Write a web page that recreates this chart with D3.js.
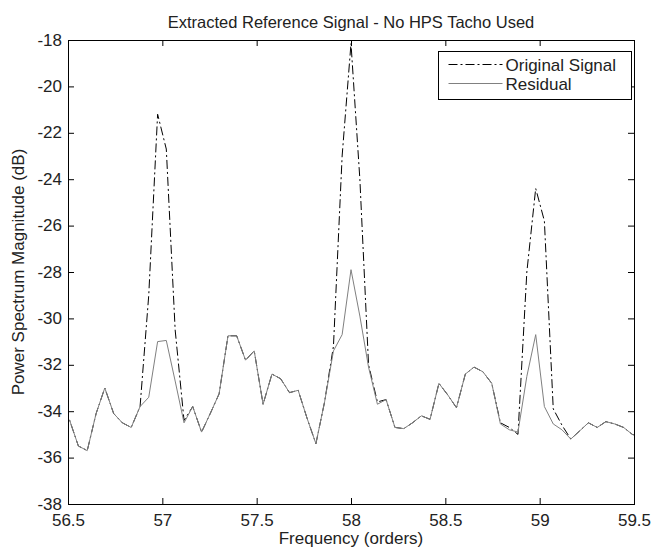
<!DOCTYPE html>
<html>
<head>
<meta charset="utf-8">
<script src="https://cdn.jsdelivr.net/npm/d3@7"></script>
<style>
  html, body { margin: 0; padding: 0; background: #fff; }
  svg { display: block; font-family: "Liberation Sans", Arial, sans-serif; }
</style>
</head>
<body>
<svg id="chart" width="665" height="549"></svg>
<script>
// Spectrum bins (orders)
const frequency = [
  56.462, 56.509, 56.555, 56.602, 56.649, 56.695, 56.742, 56.788, 56.835, 56.882,
  56.928, 56.975, 57.021, 57.068, 57.115, 57.161, 57.208, 57.254, 57.301, 57.348,
  57.394, 57.441, 57.487, 57.534, 57.581, 57.627, 57.674, 57.720, 57.767, 57.814,
  57.860, 57.907, 57.953, 58.000, 58.047, 58.093, 58.140, 58.186, 58.233, 58.280,
  58.326, 58.373, 58.419, 58.466, 58.513, 58.559, 58.606, 58.652, 58.699, 58.746,
  58.792, 58.839, 58.885, 58.932, 58.979, 59.025, 59.072, 59.118, 59.165, 59.212,
  59.258, 59.305, 59.351, 59.398, 59.445, 59.491, 59.538
];

// Power spectrum of the raw signal (dB)
const originalSignal = [
  -34.0, -34.4, -35.5, -35.7, -34.1, -33.0, -34.1, -34.5, -34.7, -33.8,
  -29.0, -21.2, -22.7, -30.5, -34.4, -33.8, -34.9, -34.1, -33.25, -30.75,
  -30.75, -31.8, -31.4, -33.7, -32.4, -32.6, -33.2, -33.1, -34.3, -35.4,
  -33.6, -31.2, -23.0, -18.15, -24.0, -32.0, -33.6, -33.5, -34.7, -34.75,
  -34.5, -34.2, -34.35, -32.8, -33.3, -33.85, -32.4, -32.1, -32.3, -32.8,
  -34.5, -34.7, -35.0, -28.0, -24.4, -25.8, -33.9, -34.6, -35.2, -34.85,
  -34.5, -34.7, -34.45, -34.55, -34.7, -35.0, -35.1
];

// Power spectrum after removing the extracted reference (dB)
const residual = [
  -34.0, -34.4, -35.5, -35.7, -34.1, -33.0, -34.1, -34.5, -34.7, -33.8,
  -33.4, -31.0, -30.95, -32.7, -34.5, -33.8, -34.9, -34.1, -33.25, -30.75,
  -30.75, -31.8, -31.4, -33.7, -32.4, -32.6, -33.2, -33.1, -34.3, -35.4,
  -33.6, -31.4, -30.7, -27.9, -29.9, -32.1, -33.7, -33.5, -34.7, -34.75,
  -34.5, -34.2, -34.35, -32.8, -33.3, -33.85, -32.4, -32.1, -32.3, -32.8,
  -34.55, -34.8, -34.9, -32.5, -30.7, -33.8, -34.55, -34.8, -35.2, -34.85,
  -34.5, -34.7, -34.45, -34.55, -34.7, -35.0, -35.1
];

const xTicks = [56.5, 57, 57.5, 58, 58.5, 59, 59.5];
const yTicks = [-18, -20, -22, -24, -26, -28, -30, -32, -34, -36, -38];
const seriesNames = ["Original Signal", "Residual"];

const margin = { left: 68, right: 31, top: 40, bottom: 45 };
const W = 665, H = 549;
const pw = W - margin.left - margin.right;
const ph = H - margin.top - margin.bottom;

const svg = d3.select("#chart");
const g = svg.append("g").attr("transform", `translate(${margin.left},${margin.top})`);

const x = d3.scaleLinear().domain([56.5, 59.5]).range([0, pw]);
const y = d3.scaleLinear().domain([-38, -18]).range([ph, 0]);

svg.append("defs").append("clipPath").attr("id", "plotClip")
  .append("rect").attr("x", 0).attr("y", 0).attr("width", pw).attr("height", ph);

const tickLen = 6;
const fontSize = 17;

// Axes: ticks point into the plot on all four sides
const xBottom = d3.axisBottom(x).tickValues(xTicks).tickSizeInner(-tickLen).tickSizeOuter(0)
  .tickPadding(10).tickFormat(d => String(d));
const xTop = d3.axisTop(x).tickValues(xTicks).tickSizeInner(-tickLen).tickSizeOuter(0).tickFormat("");
const yLeft = d3.axisLeft(y).tickValues(yTicks).tickSizeInner(-tickLen).tickSizeOuter(0)
  .tickPadding(6).tickFormat(d => String(d));
const yRight = d3.axisRight(y).tickValues(yTicks).tickSizeInner(-tickLen).tickSizeOuter(0).tickFormat("");

function styleAxis(sel) {
  sel.select(".domain").remove();
  sel.selectAll(".tick line").attr("stroke", "#000").attr("stroke-width", 1);
  sel.selectAll(".tick text").attr("fill", "#222").attr("font-size", fontSize)
    .attr("font-family", "'Liberation Sans', Arial, sans-serif");
}

g.append("g").attr("transform", `translate(0,${ph})`).call(xBottom).call(styleAxis);
g.append("g").call(xTop).call(styleAxis);
g.append("g").call(yLeft).call(styleAxis)
  .selectAll(".tick text").attr("dy", "0.3em");
g.append("g").attr("transform", `translate(${pw},0)`).call(yRight).call(styleAxis);

// Lines
const line = d3.line()
  .x((d, i) => x(frequency[i]))
  .y(d => y(d));

const lines = g.append("g").attr("clip-path", "url(#plotClip)");
lines.append("path").datum(originalSignal)
  .attr("d", line)
  .attr("fill", "none")
  .attr("stroke", "#000")
  .attr("stroke-width", 1)
  .attr("stroke-dasharray", "9,3,2,3");
lines.append("path").datum(residual)
  .attr("d", line)
  .attr("fill", "none")
  .attr("stroke", "#808080")
  .attr("stroke-width", 1);

// Plot frame
g.append("rect").attr("x", 0.5).attr("y", 0.5).attr("width", pw).attr("height", ph)
  .attr("fill", "none").attr("stroke", "#000").attr("stroke-width", 1);

// Legend
const lg = svg.append("g").attr("transform", "translate(438.5,51.5)");
lg.append("rect").attr("width", 193).attr("height", 48)
  .attr("fill", "#fff").attr("stroke", "#000").attr("stroke-width", 1);
const legendStyles = [
  { stroke: "#000", dash: "9,3,2,3" },
  { stroke: "#808080", dash: null }
];
seriesNames.forEach((name, i) => {
  const row = lg.append("g").attr("transform", `translate(0,${13 + i * 19})`);
  row.append("line").attr("x1", 10).attr("x2", 64).attr("y1", 0).attr("y2", 0)
    .attr("stroke", legendStyles[i].stroke).attr("stroke-width", 1)
    .attr("stroke-dasharray", legendStyles[i].dash);
  row.append("text").attr("x", 67).attr("y", 6).attr("font-size", fontSize)
    .attr("fill", "#222").text(name);
});

// Title and axis labels
svg.append("text").attr("x", margin.left + pw / 2).attr("y", 28)
  .attr("text-anchor", "middle").attr("font-size", 16.5).attr("fill", "#222")
  .text("Extracted Reference Signal - No HPS Tacho Used");
svg.append("text").attr("x", margin.left + pw / 2).attr("y", 544)
  .attr("text-anchor", "middle").attr("font-size", fontSize).attr("fill", "#222")
  .text("Frequency (orders)");
svg.append("text")
  .attr("transform", `translate(24,${margin.top + ph / 2}) rotate(-90)`)
  .attr("text-anchor", "middle").attr("font-size", fontSize).attr("fill", "#222")
  .text("Power Spectrum Magnitude (dB)");
</script>
</body>
</html>
